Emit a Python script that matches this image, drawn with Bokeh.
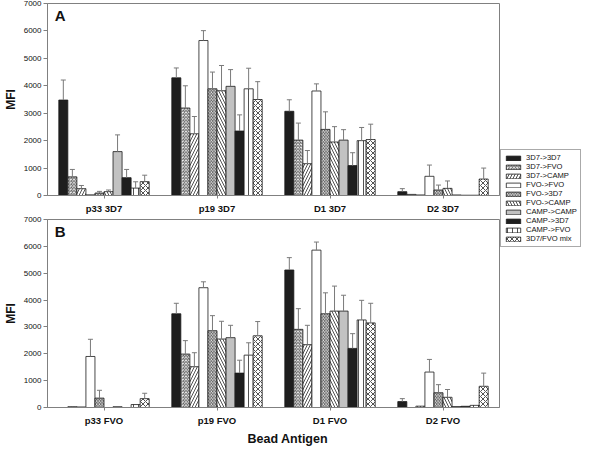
from bokeh.plotting import figure
from bokeh.models import (ColumnDataSource, Range1d, FixedTicker, SingleIntervalTicker,
                          Whisker, TeeHead, Legend, LegendItem, Label, Title)
from bokeh.layouts import row, column
from bokeh.embed import file_html
from bokeh.resources import INLINE

# ---------------- data ----------------
series = ["3D7->3D7", "3D7->FVO", "3D7->CAMP", "FVO->FVO", "FVO->3D7",
          "FVO->CAMP", "CAMP->CAMP", "CAMP->3D7", "CAMP->FVO", "3D7/FVO mix"]

groups_a = ["p33 3D7", "p19 3D7", "D1 3D7", "D2 3D7"]
groups_b = ["p33 FVO", "p19 FVO", "D1 FVO", "D2 FVO"]

# Panel A means per series (across groups_a)
a_3d7_3d7   = [3480, 4290, 3070, 140]
a_3d7_fvo   = [680, 3190, 2020, 40]
a_3d7_camp  = [250, 2250, 1160, 20]
a_fvo_fvo   = [25, 5650, 3810, 700]
a_fvo_3d7   = [90, 3890, 2410, 200]
a_fvo_camp  = [140, 3820, 1950, 260]
a_camp_camp = [1600, 3980, 2020, 20]
a_camp_3d7  = [650, 2350, 1090, 10]
a_camp_fvo  = [270, 3890, 2000, 10]
a_mix       = [505, 3500, 2040, 600]
means_a = [a_3d7_3d7, a_3d7_fvo, a_3d7_camp, a_fvo_fvo, a_fvo_3d7,
           a_fvo_camp, a_camp_camp, a_camp_3d7, a_camp_fvo, a_mix]

# Panel A upper error (SD)
ea_3d7_3d7   = [730, 360, 420, 110]
ea_3d7_fvo   = [270, 810, 620, 0]
ea_3d7_camp  = [115, 630, 480, 0]
ea_fvo_fvo   = [0, 360, 260, 410]
ea_fvo_3d7   = [60, 610, 640, 180]
ea_fvo_camp  = [60, 920, 560, 270]
ea_camp_camp = [610, 610, 380, 0]
ea_camp_3d7  = [300, 590, 470, 0]
ea_camp_fvo  = [230, 750, 480, 0]
ea_mix       = [235, 650, 560, 400]
errs_a = [ea_3d7_3d7, ea_3d7_fvo, ea_3d7_camp, ea_fvo_fvo, ea_fvo_3d7,
          ea_fvo_camp, ea_camp_camp, ea_camp_3d7, ea_camp_fvo, ea_mix]

# Panel B means per series (across groups_b)
b_3d7_3d7   = [0, 3490, 5120, 220]
b_3d7_fvo   = [30, 1990, 2910, 0]
b_3d7_camp  = [20, 1520, 2340, 50]
b_fvo_fvo   = [1900, 4460, 5860, 1320]
b_fvo_3d7   = [350, 2860, 3490, 550]
b_fvo_camp  = [0, 2550, 3590, 380]
b_camp_camp = [30, 2600, 3590, 35]
b_camp_3d7  = [0, 1280, 2200, 45]
b_camp_fvo  = [110, 1950, 3260, 80]
b_mix       = [330, 2670, 3150, 790]
means_b = [b_3d7_3d7, b_3d7_fvo, b_3d7_camp, b_fvo_fvo, b_fvo_3d7,
           b_fvo_camp, b_camp_camp, b_camp_3d7, b_camp_fvo, b_mix]

# Panel B upper error (SD)
eb_3d7_3d7   = [0, 390, 460, 110]
eb_3d7_fvo   = [0, 500, 770, 0]
eb_3d7_camp  = [0, 520, 720, 0]
eb_fvo_fvo   = [640, 220, 300, 470]
eb_fvo_3d7   = [290, 560, 780, 300]
eb_fvo_camp  = [0, 660, 930, 290]
eb_camp_camp = [0, 460, 590, 0]
eb_camp_3d7  = [0, 480, 550, 0]
eb_camp_fvo  = [0, 460, 730, 0]
eb_mix       = [200, 530, 730, 490]
errs_b = [eb_3d7_3d7, eb_3d7_fvo, eb_3d7_camp, eb_fvo_fvo, eb_fvo_3d7,
          eb_fvo_camp, eb_camp_camp, eb_camp_3d7, eb_camp_fvo, eb_mix]

# ---------------- styles ----------------
DARK = "#1e1e1e"
HATCH = "#262626"
styles = [
    dict(fill_color=DARK),
    dict(fill_color="white", hatch_pattern="/", hatch_scale=3.2, hatch_weight=0.8, hatch_color=HATCH),
    dict(fill_color="white", hatch_pattern="/", hatch_scale=6.0, hatch_weight=0.8, hatch_color=HATCH),
    dict(fill_color="white"),
    dict(fill_color="white", hatch_pattern="\\", hatch_scale=3.2, hatch_weight=0.8, hatch_color=HATCH),
    dict(fill_color="white", hatch_pattern="\\", hatch_scale=6.0, hatch_weight=0.8, hatch_color=HATCH),
    dict(fill_color="#c2c2c2"),
    dict(fill_color=DARK),
    dict(fill_color="white", hatch_pattern="|", hatch_scale=5.0, hatch_weight=0.8, hatch_color=HATCH),
    dict(fill_color="white", hatch_pattern="x", hatch_scale=5.0, hatch_weight=0.8, hatch_color=HATCH),
]
BAR_LINE = "#1a1a1a"
ERR = "#7a7a7a"
AXIS = "#808080"
FONT = "Liberation Sans"
BAR_W = 0.08
N = len(series)


def make_panel(groups, means, errs, letter, height, top_border, bottom_border):
    p = figure(width=500, height=height, x_range=Range1d(0, len(groups)), y_range=Range1d(0, 7000),
               output_backend="svg", toolbar_location=None,
               min_border_left=32, min_border_right=1,
               min_border_top=top_border, min_border_bottom=bottom_border)
    p.grid.visible = False
    p.outline_line_color = AXIS
    p.outline_line_width = 1
    p.background_fill_color = "white"
    p.border_fill_color = "white"

    for i in range(N):
        xs = [g + 0.5 + (i - (N - 1) / 2) * BAR_W for g in range(len(groups))]
        src = ColumnDataSource(dict(x=xs, top=means[i]))
        p.vbar(x="x", top="top", width=BAR_W, source=src,
               line_color=BAR_LINE, line_width=0.8, **styles[i])
        ex = [x for x, e in zip(xs, errs[i]) if e > 0]
        lo = [m for m, e in zip(means[i], errs[i]) if e > 0]
        hi = [m + e for m, e in zip(means[i], errs[i]) if e > 0]
        if ex:
            wsrc = ColumnDataSource(dict(base=ex, lower=lo, upper=hi))
            w = Whisker(source=wsrc, base="base", lower="lower", upper="upper",
                        line_color=ERR, line_width=1, level="overlay",
                        upper_head=TeeHead(size=5, line_color=ERR, line_width=1),
                        lower_head=None)
            p.add_layout(w)

    # axes
    p.xaxis.ticker = FixedTicker(ticks=[g + 0.5 for g in range(len(groups))])
    p.xaxis.major_label_overrides = {g + 0.5: name for g, name in enumerate(groups)}
    p.xaxis.major_label_text_font = FONT
    p.xaxis.major_label_text_font_size = "9.5px"
    p.xaxis.major_label_text_font_style = "bold"
    p.xaxis.major_label_text_color = "#111111"
    p.xaxis.major_label_standoff = 4
    p.xaxis.major_tick_in = 0
    p.xaxis.major_tick_out = 3
    p.xaxis.minor_tick_line_color = None
    p.xaxis.axis_line_color = AXIS
    p.xaxis.major_tick_line_color = AXIS

    p.yaxis.ticker = SingleIntervalTicker(interval=1000)
    p.yaxis.major_label_text_font = FONT
    p.yaxis.major_label_text_font_size = "8px"
    p.yaxis.major_label_text_color = "#111111"
    p.yaxis.major_label_standoff = 2
    p.yaxis.major_tick_in = 0
    p.yaxis.major_tick_out = 4
    p.yaxis.minor_tick_line_color = None
    p.yaxis.axis_line_color = AXIS
    p.yaxis.major_tick_line_color = AXIS
    p.yaxis.axis_label = "MFI"
    p.yaxis.axis_label_text_font = FONT
    p.yaxis.axis_label_text_font_size = "12px"
    p.yaxis.axis_label_text_font_style = "bold"
    p.yaxis.axis_label_text_color = "#111111"
    p.yaxis.axis_label_standoff = 3

    p.add_layout(Label(x=0.065, y=6250, text=letter, text_font=FONT, text_font_size="15px",
                       text_font_style="bold", text_color="#111111"))
    return p


pa = make_panel(groups_a, means_a, errs_a, "A", height=216, top_border=3, bottom_border=20)
pb = make_panel(groups_b, means_b, errs_b, "B", height=230, top_border=3, bottom_border=37)
pb.add_layout(Title(text="Bead Antigen", align="left", offset=200, text_font=FONT,
                    text_font_size="12.5px", text_font_style="bold", text_color="#111111",
                    standoff=2), "below")

# legend figure (dummy renderers sit outside the visible range; only their legend glyphs show)
lf = figure(width=84, height=396, x_range=Range1d(0, 1), y_range=Range1d(0, 1),
            output_backend="svg", toolbar_location=None, min_border=0,
            x_axis_type=None, y_axis_type=None)
lf.grid.visible = False
lf.outline_line_color = None
items = []
for i, s in enumerate(series):
    r = lf.vbar(x=[-5], top=[-5], width=0.1, line_color=BAR_LINE, line_width=0.8, **styles[i])
    items.append(LegendItem(label=s, renderers=[r]))
leg = Legend(items=items, location="center_left", orientation="vertical",
             label_text_font=FONT, label_text_font_size="7.6px", label_text_color="#111111",
             label_height=6, glyph_height=6, glyph_width=18, spacing=0,
             label_standoff=4, padding=3, margin=0,
             border_line_color="#555555", border_line_width=1,
             background_fill_color="white", background_fill_alpha=1)
lf.add_layout(leg)

layout = row(column(pa, pb), lf)
open("out.html", "w").write(file_html(layout, INLINE))
